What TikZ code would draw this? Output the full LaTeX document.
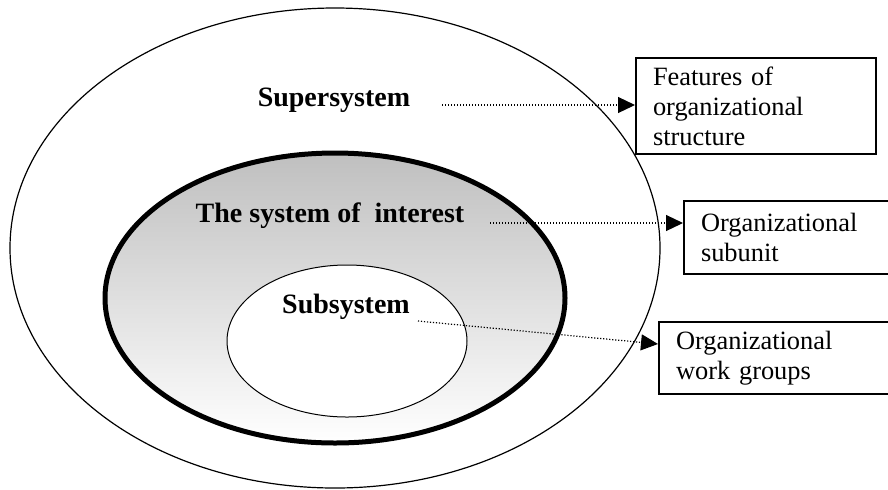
\documentclass[tikz,border=0pt]{standalone}
\usepackage{fontspec}
\setmainfont{Liberation Serif}
\usetikzlibrary{shapes.geometric, arrows.meta}

\begin{document}
\begin{tikzpicture}[x=0.5pt, y=-0.5pt]
		\tikzstyle{Ring} = [ellipse, inner sep=0pt, draw=black, line width=0.6pt]
		\tikzstyle{Core} = [ellipse, inner sep=0pt, draw=black, line width=2.5pt, top color=gray!50, bottom color=white]
		\tikzstyle{Level} = [inner sep=0pt, font=\fontsize{14}{16}\selectfont\bfseries]
		\tikzstyle{Feature} = [rectangle, anchor=north west, draw=black, line width=1pt, fill=white, align=left, inner xsep=8.5pt, font=\fontsize{13.2}{15}\selectfont]
		\tikzstyle{link} = [line width=0.6pt, dash pattern=on 0.6pt off 0.9pt, -{Triangle[length=8.5pt, width=8pt]}]
		
		\clip (0,0) rectangle (888,489);
		
		% nested systems
		\node (superE) [Ring, minimum width=325pt, minimum height=240pt] at (335,248) {};
		\node (soiE) [Core, minimum width=230pt, minimum height=145pt] at (335,298) {};
		\node (subE) [Ring, fill=white, line width=0.5pt, minimum width=120pt, minimum height=76pt] at (347,341) {};
		
		\node (super) [Level] at (334,100) {Supersystem};
		\node (soi) [Level] at (330,216) {The system of~~interest};
		\node (sub) [Level] at (346,307) {Subsystem};
		
		% organizational side
		\node (featBox) [Feature, minimum width=120pt, minimum height=48pt, text width=103pt] at (635,57) {Features of\\organizational\\structure};
		\node (unitBox) [Feature, minimum width=120pt, minimum height=36.5pt, text width=103pt] at (683,200) {Organizational\\subunit};
		\node (groupBox) [Feature, minimum width=130pt, minimum height=36pt, text width=113pt] at (658,321) {Organizational\\work groups};
		
		\coordinate (superOut) at (442,105);
		\coordinate (soiOut) at (490,223);
		\coordinate (subOut) at (418,321);
		
		\draw [link] (superOut) -- (superOut -| featBox.west);
		\draw [link] (soiOut) -- (soiOut -| unitBox.west);
		\draw [link] (subOut) -- ([yshift=7pt]groupBox.west);
\end{tikzpicture}
\end{document}
